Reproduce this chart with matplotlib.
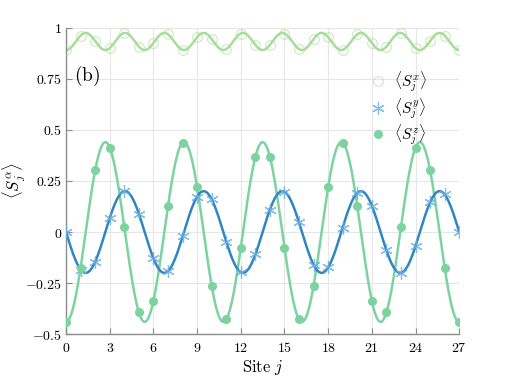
import numpy as np
import matplotlib
matplotlib.use('Agg')
import matplotlib.pyplot as plt
from matplotlib.ticker import FixedLocator

# marker values at each site
sites = list(range(28))
sx_vals = [0.891, 0.962, 0.935, 0.901, 0.975, 0.908, 0.926, 0.968, 0.892, 0.954,
           0.945, 0.895, 0.972, 0.916, 0.916, 0.972, 0.895, 0.945, 0.954, 0.892,
           0.968, 0.926, 0.908, 0.975, 0.901, 0.935, 0.962, 0.891]
sy_vals = [0.0, -0.184, -0.145, 0.068, 0.200, 0.090, -0.129, -0.192, -0.021, 0.173,
           0.160, -0.047, -0.197, -0.110, 0.110, 0.197, 0.047, -0.160, -0.173, 0.021,
           0.192, 0.129, -0.090, -0.200, -0.068, 0.145, 0.184, 0.0]
sz_vals = [-0.44, -0.174, 0.302, 0.413, 0.026, -0.393, -0.337, 0.126, 0.437, 0.22,
           -0.263, -0.428, -0.077, 0.367, 0.367, -0.077, -0.428, -0.263, 0.22, 0.437,
           0.126, -0.337, -0.393, 0.026, 0.413, 0.302, -0.174, -0.44]

# fitted curves drawn as solid lines (parameters)
period = 5.4
sx_mean, sx_amp = 0.933, 0.042
sy_amp = 0.2
sz_amp = 0.44

xticks = [0, 3, 6, 9, 12, 15, 18, 21, 24, 27]
yticks = [-0.5, -0.25, 0, 0.25, 0.5, 0.75, 1]
ytick_labels = ['-0.5', '-0.25', '0', '0.25', '0.5', '0.75', '1']

c_x = '#a8dc9a'
c_y_line = '#2f86c0'
c_y_mark = '#6aaee0'
c_z = '#7dd3a0'

plt.rcParams['mathtext.fontset'] = 'cm'
plt.rcParams['font.family'] = 'serif'
plt.rcParams['font.serif'] = ['DejaVu Serif']

fig = plt.figure(figsize=(5.08, 3.81), dpi=100)
ax = fig.add_axes([0.130, 0.123, 0.774, 0.804])

# smooth curves
xs = np.linspace(0, 27, 800)
ax.plot(xs, sx_mean - sx_amp * np.cos(4 * np.pi * xs / period), color=c_x, lw=1.8, zorder=2)
ax.plot(xs, -sy_amp * np.sin(2 * np.pi * xs / period), color=c_y_line, lw=1.8, zorder=3)
ax.plot(xs, -sz_amp * np.cos(2 * np.pi * xs / period), color=c_z, lw=1.8, zorder=2)

# markers
ax.plot(sites, sx_vals, 'o', mfc='none', mec=c_x, ms=7, mew=0.8, alpha=0.6,
        label=r'$\langle S_j^x\rangle$', zorder=4)
ax.plot(sites, sy_vals, linestyle='none', marker=(6, 2, 0), mec=c_y_mark, ms=9, mew=0.9,
        alpha=0.8, label=r'$\langle S_j^y\rangle$', zorder=4)
ax.plot(sites, sz_vals, 'o', color=c_z, ms=5.5, label=r'$\langle S_j^z\rangle$', zorder=4)

ax.set_xlim(0, 27)
ax.set_ylim(-0.5, 1)
ax.xaxis.set_major_locator(FixedLocator(xticks))
ax.yaxis.set_major_locator(FixedLocator(yticks))
ax.set_xticklabels(['$%d$' % t for t in xticks])
ax.set_yticklabels(['$%s$' % s for s in ytick_labels])
ax.tick_params(direction='in', length=4, color='#8c8c8c', labelsize=10)
ax.tick_params(axis='x', pad=5)
ax.tick_params(axis='y', pad=3)
ax.grid(True, color='#e6e6e6', lw=0.8)
ax.set_axisbelow(True)
for s in ['top', 'right']:
    ax.spines[s].set_visible(False)
for s in ['left', 'bottom']:
    ax.spines[s].set_color('#8c8c8c')
    ax.spines[s].set_linewidth(1.0)

ax.set_xlabel(r'$\mathrm{Site}\ j$', fontsize=12, labelpad=2)
ax.set_ylabel(r'$\langle S_j^\alpha\rangle$', fontsize=12)
ax.yaxis.set_label_coords(-0.098, 0.5)
ax.text(0.55, 0.765, r'$\mathrm{(b)}$', fontsize=14, va='center')

leg = ax.legend(loc='upper right', bbox_to_anchor=(0.935, 0.885), frameon=False,
                fontsize=11, handlelength=1.0, handletextpad=0.6, labelspacing=0.12,
                borderaxespad=0)

fig.savefig('out.png', dpi=100)
